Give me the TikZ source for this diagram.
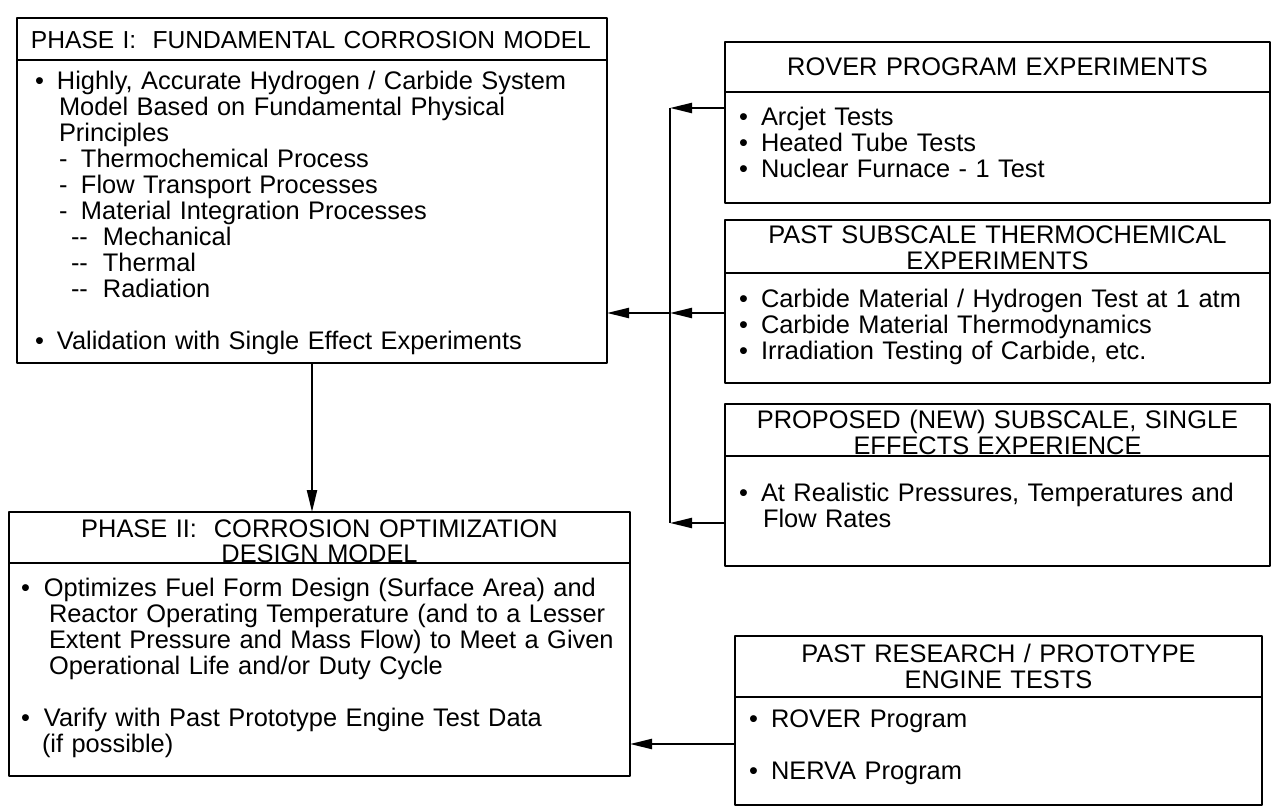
\documentclass[tikz,border=0pt]{standalone}
\usepackage{fontspec}
\setmainfont{Liberation Sans}
\usetikzlibrary{arrows.meta}
\newcommand{\bul}{\makebox[11pt][l]{\textbullet}}
\newcommand{\cont}{\hspace*{12pt}}
\newcommand{\dsh}{\hspace*{12pt}\makebox[11pt][l]{-}}
\newcommand{\ddsh}{\hspace*{18pt}\makebox[16pt][l]{-{}-}}
\begin{document}
\begin{tikzpicture}[x=0.5pt,y=-0.5pt,line join=round,>={Triangle[length=11pt,width=5pt]},
	every node/.style={font=\fontsize{12.7}{13}\selectfont},
	box/.style={draw,line width=1.2pt,outer sep=0pt,inner ysep=0pt,inner xsep=7pt,anchor=north west,align=left},
	head/.style={box,inner xsep=3pt,align=center},
	link/.style={line width=1.2pt,->}]
	\useasboundingbox (0,0) rectangle (1274,807);
	\def\busx{670}
	\node[head,align=left,inner xsep=7pt,text width=281pt,text height=15.15pt,text depth=5.85pt,font=\fontsize{12.3}{13}\selectfont] (p1h) at (17,18) {\mbox{PHASE I:\ \ FUNDAMENTAL CORROSION MODEL}};
	\node[box,inner xsep=9pt,text width=277pt,text height=14.65pt,text depth=136.85pt] (p1b) at (p1h.south west) {%
		\bul Highly, Accurate Hydrogen / Carbide System\\
		\cont Model Based on Fundamental Physical\\
		\cont Principles\\
		\dsh Thermochemical Process\\
		\dsh Flow Transport Processes\\
		\dsh Material Integration Processes\\
		\ddsh Mechanical\\
		\ddsh Thermal\\
		\ddsh Radiation\\[13pt]
		\bul Validation with Single Effect Experiments};
	\node[head,text width=304.5pt,text height=12.5pt,text depth=13pt] (p2h) at (9,512) {PHASE II:\ \ CORROSION OPTIMIZATION\\DESIGN MODEL};
	\node[box,inner xsep=6pt,text width=298.5pt,text height=16.65pt,text depth=89.85pt] (p2b) at (p2h.south west) {%
		\makebox[11.5pt][l]{\textbullet}Optimizes Fuel Form Design (Surface Area) and\\
		\hspace*{14pt}Reactor Operating Temperature (and to a Lesser\\
		\hspace*{14pt}Extent Pressure and Mass Flow) to Meet a Given\\
		\hspace*{14pt}Operational Life and/or Duty Cycle\\[13pt]
		\makebox[11.5pt][l]{\textbullet}Varify with Past Prototype Engine Test Data\\
		\hspace*{10.5pt}(if possible)};
	\node[head,text width=266.5pt,text height=16.65pt,text depth=8.35pt] (rovh) at (725,42) {ROVER PROGRAM EXPERIMENTS};
	\node[box,text width=258.5pt,text height=16.65pt,text depth=38.85pt] (rovb) at (rovh.south west) {%
		\bul Arcjet Tests\\
		\bul Heated Tube Tests\\
		\bul Nuclear Furnace - 1 Test};
	\node[head,text width=266.5pt,text height=11.65pt,text depth=14.85pt] (subh) at (725,220) {PAST SUBSCALE THERMOCHEMICAL\\EXPERIMENTS};
	\node[box,text width=258.5pt,text height=17.15pt,text depth=37.85pt] (subb) at (subh.south west) {%
		\bul Carbide Material / Hydrogen Test at 1 atm\\
		\bul Carbide Material Thermodynamics\\
		\bul Irradiation Testing of Carbide, etc.};
	\node[head,text width=266.5pt,text height=12.5pt,text depth=13.5pt] (proh) at (725,404) {PROPOSED (NEW) SUBSCALE, SINGLE\\EFFECTS EXPERIENCE};
	\node[box,text width=258.5pt,text height=22.65pt,text depth=32.35pt] (prob) at (proh.south west) {%
		\bul At Realistic Pressures, Temperatures and\\
		\cont Flow Rates};
	\node[head,text width=257.5pt,text height=13.15pt,text depth=17.35pt] (resh) at (735,636) {PAST RESEARCH / PROTOTYPE\\ENGINE TESTS};
	\node[box,text width=249.5pt,text height=15.15pt,text depth=38.85pt] (resb) at (resh.south west) {%
		\bul ROVER Program\\[13pt]
		\bul NERVA Program};
	\coordinate (b1) at (\busx,108);
	\coordinate (b2) at (\busx,313);
	\coordinate (b3) at (\busx,523);
	\coordinate (r1) at (700,744);
	\draw[line width=1.2pt] (b1) -- (b3);
	\draw[link] (rovb.west |- b1) -- (b1);
	\draw[link] (subb.west |- b2) -- (b2);
	\draw[link] (prob.west |- b3) -- (b3);
	\draw[link] (b2) -- (b2 -| p1b.east);
	\draw[link] (p1b.south) -- (p1b.south |- p2h.north);
	\draw[link] (resb.west |- r1) -- (r1 -| p2b.east);
\end{tikzpicture}
\end{document}
